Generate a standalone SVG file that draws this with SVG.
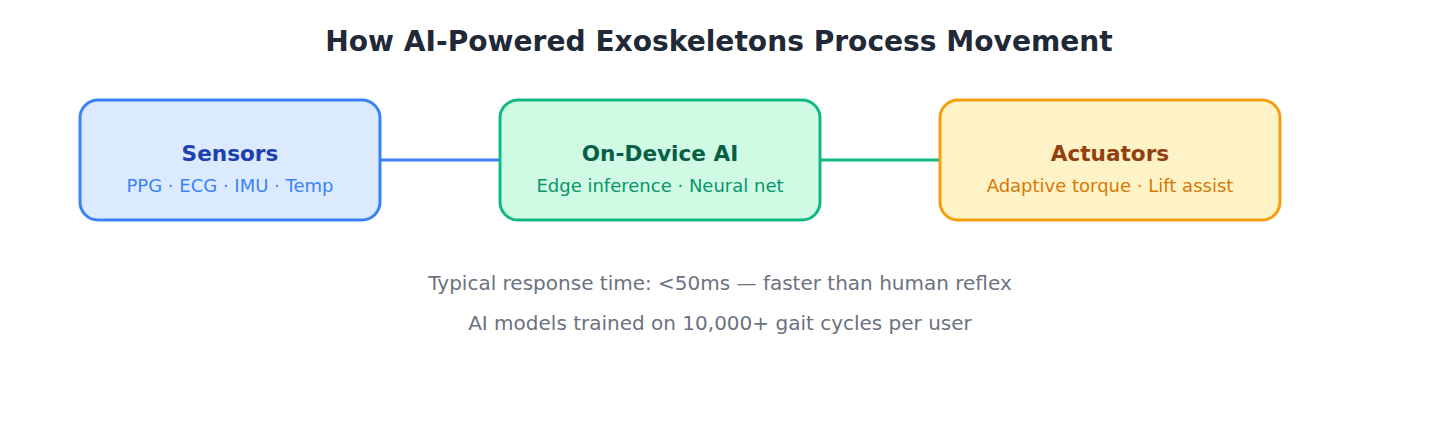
<svg xmlns="http://www.w3.org/2000/svg" width="1440" height="440" viewBox="0 0 1440 440">
<style>
text{font-family:"DejaVu Sans",sans-serif;text-anchor:middle}
.title{font-size:28.1px;font-weight:bold;fill:#1f2937}
.nt{font-size:21.6px;font-weight:bold}
.ns{font-size:18px}
.note{font-size:20px;fill:#6b7280}
.box{stroke-width:3}
</style>
<rect width="1440" height="440" fill="#ffffff"/>
<text class="title" x="719" y="50.5">How AI-Powered Exoskeletons Process Movement</text>
<g id="connectors" stroke-width="3">
<line x1="380" y1="160" x2="500" y2="160" stroke="#3b82f6"/>
<line x1="820" y1="160" x2="940" y2="160" stroke="#10b981"/>
</g>
<g id="sensors">
<rect class="box" x="80" y="100" width="300" height="120" rx="18" fill="#dbeafe" stroke="#3b82f6"/>
<text class="nt" x="230" y="160.5" fill="#1e40af">Sensors</text>
<text class="ns" x="230" y="192" fill="#3b82f6">PPG · ECG · IMU · Temp</text>
</g>
<g id="ai">
<rect class="box" x="500" y="100" width="320" height="120" rx="18" fill="#d1fae5" stroke="#10b981"/>
<text class="nt" x="660" y="160.5" fill="#065f46">On-Device AI</text>
<text class="ns" x="660" y="192" fill="#059669">Edge inference · Neural net</text>
</g>
<g id="actuators">
<rect class="box" x="940" y="100" width="340" height="120" rx="18" fill="#fef3c7" stroke="#f59e0b"/>
<text class="nt" x="1110" y="160.5" fill="#92400e">Actuators</text>
<text class="ns" x="1110" y="192" fill="#d97706">Adaptive torque · Lift assist</text>
</g>
<text class="note" x="720" y="290">Typical response time: &lt;50ms — faster than human reflex</text>
<text class="note" x="720" y="330">AI models trained on 10,000+ gait cycles per user</text>
</svg>
